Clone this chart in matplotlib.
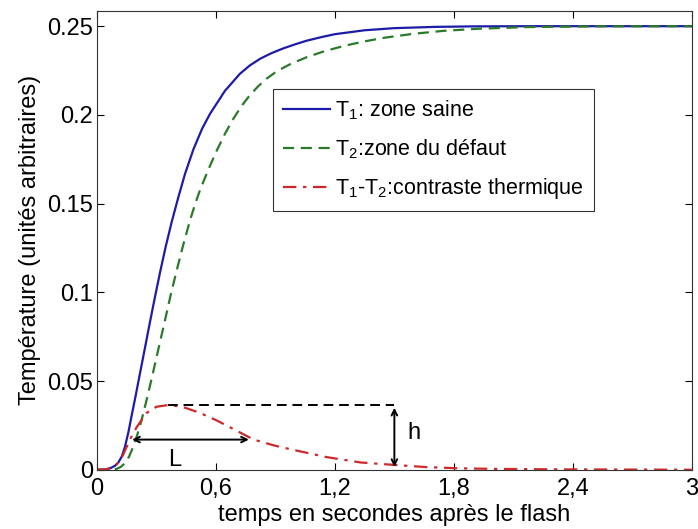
import matplotlib
matplotlib.use('Agg')
import matplotlib.pyplot as plt

plt.rcParams['font.family'] = ['Liberation Sans', 'DejaVu Sans']
plt.rcParams['mathtext.fontset'] = 'custom'
plt.rcParams['mathtext.rm'] = 'Liberation Sans'
plt.rcParams['mathtext.default'] = 'regular'

# T1 : zone saine
t1_time = [0, 0.04, 0.066, 0.09, 0.107, 0.125, 0.141, 0.158, 0.172, 0.195, 0.217, 0.242,
           0.267, 0.292, 0.318, 0.347, 0.377, 0.41, 0.444, 0.486, 0.53, 0.57, 0.645,
           0.721, 0.77, 0.822, 0.88, 0.94, 1.0, 1.057, 1.13, 1.2, 1.35, 1.5, 1.7, 1.9,
           2.2, 3.0]
t1_temp = [0, 0.0001, 0.0008, 0.0022, 0.004, 0.0075, 0.013, 0.021, 0.029, 0.0418, 0.0545,
           0.0688, 0.0832, 0.0972, 0.1113, 0.126, 0.1398, 0.1535, 0.1668, 0.1805, 0.1922,
           0.2006, 0.2135, 0.2232, 0.2278, 0.2316, 0.2348, 0.2375, 0.2398, 0.2418, 0.2438,
           0.2455, 0.2477, 0.2489, 0.2496, 0.2499, 0.25, 0.25]

# T2 : zone du defaut
t2_time = [0, 0.06, 0.08, 0.099, 0.12, 0.141, 0.162, 0.183, 0.204, 0.225, 0.255, 0.284,
           0.313, 0.343, 0.372, 0.402, 0.435, 0.469, 0.494, 0.519, 0.561, 0.603, 0.645,
           0.687, 0.73, 0.772, 0.81, 0.856, 0.91, 0.973, 1.057, 1.15, 1.25, 1.343, 1.45,
           1.595, 1.75, 1.93, 2.17, 2.5, 3.0]
t2_temp = [0, 0, 0.0001, 0.0005, 0.0016, 0.0037, 0.0075, 0.0131, 0.02, 0.0281, 0.0415,
           0.0555, 0.0697, 0.0843, 0.0987, 0.1124, 0.1268, 0.1405, 0.1495, 0.1575, 0.169,
           0.1797, 0.1893, 0.1977, 0.2052, 0.2112, 0.2158, 0.2205, 0.2248, 0.2285, 0.2325,
           0.236, 0.239, 0.2413, 0.2435, 0.2457, 0.2474, 0.2486, 0.2495, 0.2499, 0.25]

# T1-T2 : contraste thermique
c_time = [0, 0.05, 0.1, 0.13, 0.166, 0.2, 0.25, 0.3, 0.36, 0.43, 0.52, 0.6, 0.67,
          0.79, 0.9, 0.99, 1.16, 1.33, 1.49, 1.66, 1.83, 2.0, 2.34, 2.7, 3.0]
c_temp = [0, 0.0003, 0.003, 0.008, 0.017, 0.024, 0.032, 0.0355, 0.0365, 0.0355, 0.032,
          0.028, 0.024, 0.017, 0.0135, 0.0112, 0.0071, 0.0041, 0.0028, 0.0015, 0.0008,
          0.0005, 0.0002, 0.0001, 0]

legend_labels = ['T$_1$: zone saine', 'T$_2$:zone du défaut', 'T$_1$-T$_2$:contraste thermique']
xticks = [0, 0.6, 1.2, 1.8, 2.4, 3]
xtick_labels = ['0', '0,6', '1,2', '1,8', '2,4', '3']
yticks = [0, 0.05, 0.1, 0.15, 0.2, 0.25]
ytick_labels = ['0', '0.05', '0.1', '0.15', '0.2', '0.25']

# annotation of the contrast peak
peak_t, peak_h = 0.36, 0.0365
h_t = 1.5
L_start, L_end, L_level = 0.163, 0.78, 0.017

fs = 17

fig = plt.figure(figsize=(6.98, 5.29), dpi=100)
ax = fig.add_axes([0.139, 0.112, 0.852, 0.867])

ax.plot(t1_time, t1_temp, '-', color='#1c1ca8', lw=1.6, label=legend_labels[0])
ax.plot(t2_time, t2_temp, '--', color='#2a7a2a', lw=1.6, dashes=(5, 3), label=legend_labels[1])
ax.plot(c_time, c_temp, '-.', color='#cc2a2a', lw=1.6, dashes=(6, 3, 1.5, 3), label=legend_labels[2])

ax.plot([peak_t, h_t], [peak_h, peak_h], '--', color='black', lw=1.4, dashes=(5, 3))
ax.annotate('', xy=(h_t, peak_h), xytext=(h_t, 0),
            arrowprops=dict(arrowstyle='<->', color='black', lw=1.4))
ax.annotate('', xy=(L_start, L_level), xytext=(L_end, L_level),
            arrowprops=dict(arrowstyle='<->', color='black', lw=1.4))
ax.text(0.39, 0.0055, 'L', fontsize=fs, ha='center', va='center')
ax.text(1.6, 0.0205, 'h', fontsize=fs, ha='center', va='center')

ax.set_xlim(0, 3)
ax.set_ylim(0, 0.2585)
ax.set_xticks(xticks)
ax.set_xticklabels(xtick_labels)
ax.set_yticks(yticks)
ax.set_yticklabels(ytick_labels)
ax.tick_params(direction='in', top=True, right=True, labelsize=fs, length=5, width=0.8)
ax.tick_params(axis='x', pad=6)
ax.tick_params(axis='y', pad=3)
for s in ax.spines.values():
    s.set_linewidth(0.8)
    s.set_color('#333333')

ax.set_xlabel('temps en secondes après le flash', fontsize=fs, labelpad=3)
ax.set_ylabel('Température (unités arbitraires)', fontsize=fs, labelpad=4)

leg = ax.legend(loc='upper left', bbox_to_anchor=(0.296, 0.83), fontsize=15.5,
                frameon=True, fancybox=False, edgecolor='black', handlelength=2.2,
                handletextpad=0.25, borderpad=0.45, labelspacing=0.7, borderaxespad=0)
leg.get_frame().set_linewidth(0.8)

fig.savefig('out.png', dpi=100)
